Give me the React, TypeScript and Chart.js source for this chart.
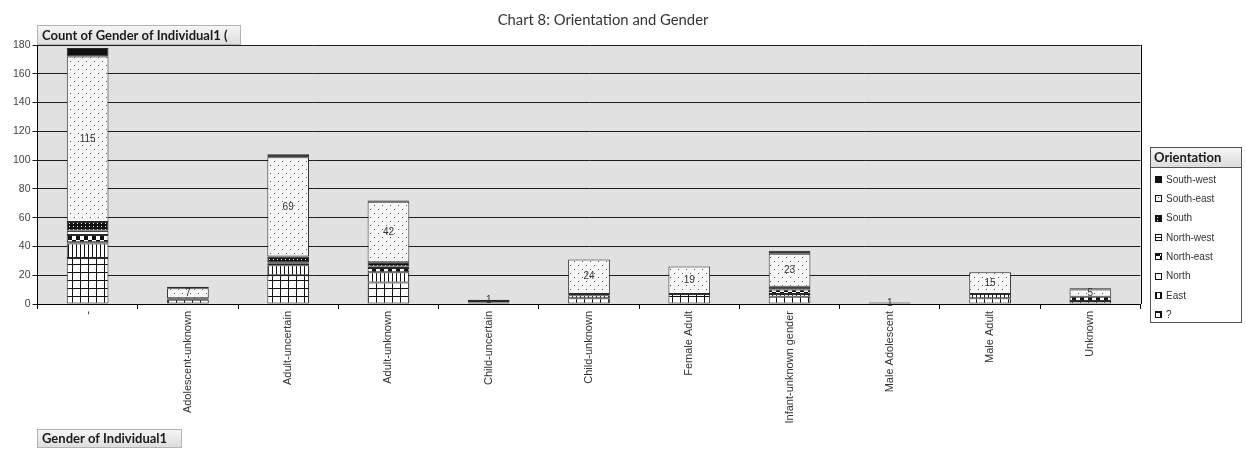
import { useEffect, useRef } from "react";
import { Chart, registerables } from "chart.js";

Chart.register(...registerables);

// Gender of Individual1 (x categories)
const categories = [
  "-",
  "Adolescent-unknown",
  "Adult-uncertain",
  "Adult-unknown",
  "Child-uncertain",
  "Child-unknown",
  "Female Adult",
  "Infant-unknown gender",
  "Male Adolescent",
  "Male Adult",
  "Unknown",
];

// Count per orientation, listed in stacking order (bottom to top)
const unknownDir = [32, 3, 20, 15, 1, 4, 7, 5, 0, 4, 2];
const east = [10, 0, 7, 7, 0, 2, 0, 2, 0, 3, 0];
const north = [1, 0, 0, 0, 0, 0, 0, 0, 0, 0, 0];
const northEast = [5, 1, 1, 3, 1, 1, 0, 3, 0, 0, 3];
const northWest = [3, 0, 1, 1, 0, 0, 0, 0, 0, 0, 0];
const south = [6, 0, 4, 3, 0, 0, 0, 2, 0, 0, 0];
const southEast = [115, 7, 69, 42, 1, 24, 19, 23, 1, 15, 5];
const southWest = [6, 1, 2, 1, 0, 0, 0, 2, 0, 0, 1];

const yTicks = [0, 20, 40, 60, 80, 100, 120, 140, 160, 180];

const TITLE = "Chart 8: Orientation and Gender";
const VALUE_FIELD = "Count of Gender of Individual1 (";
const AXIS_FIELD = "Gender of Individual1";
const LEGEND_TITLE = "Orientation";

type TileDraw = (c: CanvasRenderingContext2D) => void;

function makePattern(w: number, h: number, draw: TileDraw): CanvasPattern | string {
  const tile = document.createElement("canvas");
  tile.width = w;
  tile.height = h;
  const c = tile.getContext("2d");
  if (!c) return "#fff";
  draw(c);
  const ctx = document.createElement("canvas").getContext("2d");
  const p = ctx ? ctx.createPattern(tile, "repeat") : null;
  return p || "#fff";
}

function buildFills() {
  const grid = makePattern(8, 8, (c) => {
    c.fillStyle = "#fff";
    c.fillRect(0, 0, 8, 8);
    c.fillStyle = "#111";
    c.fillRect(0, 0, 8, 1);
    c.fillRect(0, 0, 1, 8);
  });
  const vertical = makePattern(4, 4, (c) => {
    c.fillStyle = "#fff";
    c.fillRect(0, 0, 4, 4);
    c.fillStyle = "#111";
    c.fillRect(0, 0, 1, 4);
  });
  const checker = makePattern(8, 8, (c) => {
    c.fillStyle = "#fff";
    c.fillRect(0, 0, 8, 8);
    c.fillStyle = "#111";
    c.fillRect(0, 0, 4, 4);
    c.fillRect(4, 4, 4, 4);
  });
  const horizontal = makePattern(3, 3, (c) => {
    c.fillStyle = "#fff";
    c.fillRect(0, 0, 3, 3);
    c.fillStyle = "#111";
    c.fillRect(0, 0, 3, 1);
  });
  const darkDots = makePattern(4, 3, (c) => {
    c.fillStyle = "#111";
    c.fillRect(0, 0, 4, 3);
    c.fillStyle = "#fff";
    c.fillRect(1, 1, 1, 1);
  });
  const lightDots = makePattern(8, 8, (c) => {
    c.fillStyle = "#f7f7f7";
    c.fillRect(0, 0, 8, 8);
    c.fillStyle = "#555";
    c.fillRect(2, 1, 1, 1);
    c.fillRect(6, 5, 1, 1);
  });
  return { grid, vertical, checker, horizontal, darkDots, lightDots };
}

const nz = (arr: number[]) => arr.map((v) => (v === 0 ? null : v));

export default function App() {
  const ref = useRef<HTMLCanvasElement | null>(null);

  useEffect(() => {
    const canvas = ref.current;
    if (!canvas) return;
    const f = buildFills();

    const series = [
      { label: "?", data: unknownDir, fill: f.grid },
      { label: "East", data: east, fill: f.vertical },
      { label: "North", data: north, fill: "#ffffff" },
      { label: "North-east", data: northEast, fill: f.checker },
      { label: "North-west", data: northWest, fill: f.horizontal },
      { label: "South", data: south, fill: f.darkDots },
      { label: "South-east", data: southEast, fill: f.lightDots },
      { label: "South-west", data: southWest, fill: "#111111" },
    ];
    const labelledIndex = 6;

    const datasets = series.map((s) => ({
      label: s.label,
      data: nz(s.data),
      backgroundColor: s.fill as any,
      borderColor: "#2a2a2a",
      borderWidth: 1,
      borderSkipped: false as const,
      categoryPercentage: 1,
      barPercentage: 0.416,
    }));

    const sans = "'Liberation Sans', Arial, sans-serif";
    const heading = "Lato, 'Open Sans', sans-serif";

    const plotBackground = {
      id: "plotBackground",
      beforeDraw(chart: any) {
        const { ctx, chartArea: a } = chart;
        ctx.save();
        ctx.fillStyle = "#ffffff";
        ctx.fillRect(0, 0, chart.width, chart.height);
        ctx.fillStyle = "#e1e1e1";
        ctx.fillRect(a.left, a.top, a.right - a.left, a.bottom - a.top);
        ctx.restore();
      },
      afterDraw(chart: any) {
        const { ctx, chartArea: a } = chart;
        ctx.save();
        ctx.strokeStyle = "#000";
        ctx.lineWidth = 1;
        ctx.beginPath();
        ctx.moveTo(Math.round(a.right) + 0.5, a.top);
        ctx.lineTo(Math.round(a.right) + 0.5, a.bottom);
        ctx.stroke();
        ctx.restore();
      },
    };

    const valueLabels = {
      id: "valueLabels",
      afterDatasetsDraw(chart: any) {
        const { ctx } = chart;
        const meta = chart.getDatasetMeta(labelledIndex);
        ctx.save();
        ctx.font = `10px ${sans}`;
        ctx.fillStyle = "#333";
        ctx.textAlign = "center";
        ctx.textBaseline = "middle";
        meta.data.forEach((el: any, i: number) => {
          const v = southEast[i];
          if (!v || el.skip) return;
          ctx.fillText(String(v), el.x, (el.y + el.base) / 2);
        });
        ctx.restore();
      },
    };

    const fieldButton = (ctx: CanvasRenderingContext2D, x: number, y: number, w: number, h: number, text: string) => {
      ctx.save();
      const g = ctx.createLinearGradient(0, y, 0, y + h);
      g.addColorStop(0, "#f6f6f6");
      g.addColorStop(1, "#dcdcdc");
      ctx.fillStyle = g;
      ctx.fillRect(x, y, w, h);
      ctx.strokeStyle = "#b4b4b4";
      ctx.lineWidth = 1;
      ctx.strokeRect(x + 0.5, y + 0.5, w - 1, h - 1);
      ctx.beginPath();
      ctx.rect(x, y, w - 1, h);
      ctx.clip();
      ctx.font = `bold 13px ${heading}`;
      ctx.fillStyle = "#1a1a1a";
      ctx.textAlign = "left";
      ctx.textBaseline = "middle";
      ctx.fillText(text, x + 5, y + h / 2 + 0.5);
      ctx.restore();
    };

    const decorations = {
      id: "decorations",
      afterDraw(chart: any) {
        const { ctx } = chart;
        ctx.save();
        ctx.font = `14.8px ${heading}`;
        ctx.fillStyle = "#333";
        ctx.textAlign = "center";
        ctx.textBaseline = "middle";
        ctx.fillText(TITLE, 603, 20);
        ctx.restore();

        fieldButton(ctx, 37, 25, 204, 20, VALUE_FIELD);
        fieldButton(ctx, 37, 429, 145, 19, AXIS_FIELD);

        // legend box
        const lx = 1150, ly = 147, lw = 92, lh = 176;
        ctx.save();
        ctx.fillStyle = "#fff";
        ctx.fillRect(lx, ly, lw, lh);
        const g = ctx.createLinearGradient(0, ly, 0, ly + 20);
        g.addColorStop(0, "#f6f6f6");
        g.addColorStop(1, "#dcdcdc");
        ctx.fillStyle = g;
        ctx.fillRect(lx, ly, lw, 20);
        ctx.strokeStyle = "#555";
        ctx.lineWidth = 1;
        ctx.strokeRect(lx + 0.5, ly + 0.5, lw - 1, lh - 1);
        ctx.beginPath();
        ctx.moveTo(lx, ly + 20.5);
        ctx.lineTo(lx + lw, ly + 20.5);
        ctx.stroke();
        ctx.font = `bold 13px ${heading}`;
        ctx.fillStyle = "#1a1a1a";
        ctx.textBaseline = "middle";
        ctx.textAlign = "left";
        ctx.fillText(LEGEND_TITLE, lx + 4, ly + 10.5);

        const items = chart.data.datasets.slice().reverse();
        items.forEach((ds: any, i: number) => {
          const cy = 179.5 + i * 19.3;
          const sx = 1155, sy = Math.round(cy - 3.5);
          ctx.fillStyle = ds.backgroundColor;
          ctx.fillRect(sx, sy, 7, 7);
          ctx.strokeStyle = "#111";
          ctx.strokeRect(sx + 0.5, sy + 0.5, 6, 6);
          ctx.fillStyle = "#333";
          ctx.font = `10px ${sans}`;
          ctx.fillText(ds.label, 1166, cy + 0.5);
        });
        ctx.restore();
      },
    };

    const chart = new Chart(canvas, {
      type: "bar",
      data: { labels: categories, datasets: datasets as any },
      options: {
        responsive: false,
        animation: false,
        layout: { padding: { top: 45, right: 105.5, left: 0, bottom: 0 } },
        plugins: {
          legend: { display: false },
          tooltip: { enabled: false },
          title: { display: false },
        },
        scales: {
          x: {
            stacked: true,
            grid: {
              offset: true,
              drawOnChartArea: false,
              drawTicks: true,
              tickLength: 5,
              color: "#000",
            },
            border: { color: "#000" },
            ticks: {
              autoSkip: false,
              maxRotation: 90,
              minRotation: 90,
              padding: 2,
              color: "#333",
              font: { family: sans, size: 11 },
            },
            afterFit: (s: any) => {
              s.height = 149;
            },
          },
          y: {
            stacked: true,
            min: 0,
            max: 180,
            afterBuildTicks: (s: any) => {
              s.ticks = yTicks.map((v) => ({ value: v }));
            },
            grid: { color: "#1e1e1e", tickLength: 5 },
            border: { color: "#000" },
            ticks: {
              padding: 2,
              color: "#444",
              font: { family: sans, size: 10.5 },
            },
            afterFit: (s: any) => {
              s.width = 37.5;
            },
          },
        },
      },
      plugins: [plotBackground, valueLabels, decorations],
    });

    return () => chart.destroy();
  }, []);

  return (
    <div style={{ position: "absolute", left: 0, top: 0, width: 1246, height: 453, background: "#fff" }}>
      <canvas ref={ref} width={1246} height={453} style={{ display: "block", width: 1246, height: 453 }} />
    </div>
  );
}
